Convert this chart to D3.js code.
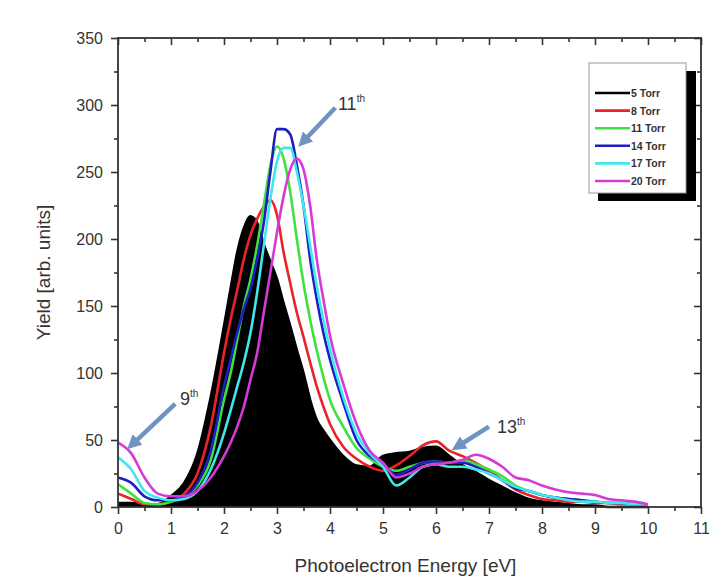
<!DOCTYPE html>
<html>
<head>
<meta charset="utf-8">
<script src="https://cdn.jsdelivr.net/npm/d3@7"></script>
<style>
  body { margin: 0; background: #fff; }
  text { font-family: "Liberation Sans", Arial, sans-serif; fill: #333; }
</style>
</head>
<body>
<script>
var energy = [0, 0.25, 0.5, 0.75, 1, 1.25, 1.5, 1.75, 2,
  2.125, 2.25, 2.375, 2.5, 2.625, 2.75, 2.875, 3, 3.125, 3.25, 3.375, 3.5, 3.625, 3.75, 3.875, 4,
  4.25, 4.5, 4.75, 5, 5.25, 5.5, 5.75, 6, 6.25, 6.5, 6.75, 7, 7.25, 7.5, 7.75, 8,
  8.25, 8.5, 8.75, 9, 9.25, 9.5, 9.75, 10];

var torr5 = [3, 3, 2, 2, 8, 18, 40, 82, 135,
  163, 190, 208, 217, 212, 196, 183, 170, 152, 135, 117, 100, 80, 65, 57, 50,
  38, 31, 30, 38, 40, 41, 44, 45, 38, 31, 26, 20, 15, 10, 6, 4,
  3, 2, 1, 1, 0, 0, 0, 0];
var torr8 = [10, 6, 2, 2, 4, 10, 25, 60, 115,
  140, 162, 185, 203, 215, 224, 229, 218, 190, 167, 145, 127, 108, 90, 75, 62,
  45, 36, 30, 27, 31, 38, 46, 49, 42, 38, 33, 27, 20, 13, 9, 6,
  5, 4, 4, 3, 3, 2, 2, 1];
var torr11 = [17, 10, 3, 2, 4, 8, 16, 35, 80,
  100, 125, 150, 170, 195, 225, 255, 269, 260, 235, 200, 167, 140, 117, 97, 80,
  60, 44, 36, 30, 27, 30, 33, 34, 33, 35, 32, 28, 23, 16, 12, 9,
  7, 6, 5, 4, 3, 3, 2, 2];
var torr14 = [22, 18, 8, 5, 5, 8, 18, 42, 90,
  110, 130, 148, 163, 185, 212, 250, 282, 282, 278, 255, 225, 185, 155, 130, 110,
  78, 50, 38, 32, 24, 28, 33, 34, 33, 33, 30, 25, 20, 14, 12, 9,
  7, 6, 5, 4, 3, 3, 2, 2];
var torr17 = [37, 28, 12, 7, 5, 6, 12, 28, 55,
  72, 90, 108, 130, 160, 195, 230, 258, 268, 268, 250, 225, 195, 165, 140, 118,
  82, 55, 40, 30, 16, 22, 30, 32, 30, 30, 28, 25, 20, 15, 12, 9,
  7, 5, 4, 4, 3, 3, 2, 2];
var torr20 = [48, 40, 22, 10, 8, 8, 12, 22, 38,
  48, 60, 75, 95, 115, 145, 175, 205, 232, 252, 260, 252, 225, 185, 155, 128,
  92, 62, 42, 33, 22, 25, 30, 32, 33, 35, 39, 36, 30, 22, 20, 16,
  13, 11, 10, 9, 6, 5, 4, 2];

var seriesNames = ["5 Torr", "8 Torr", "11 Torr", "14 Torr", "17 Torr", "20 Torr"];
var seriesValues = [torr5, torr8, torr11, torr14, torr17, torr20];
var seriesColors = ["#000000", "#e8242a", "#3ee23e", "#1e1ec4", "#3ee8ec", "#d63ad6"];

var xTicks = [0, 1, 2, 3, 4, 5, 6, 7, 8, 9, 10, 11];
var yTicks = [0, 50, 100, 150, 200, 250, 300, 350];

var width = 709, height = 580;
var margin = { top: 38, right: 8, bottom: 73, left: 118 };
var plotW = width - margin.left - margin.right,
    plotH = height - margin.top - margin.bottom;

var x = d3.scaleLinear().domain([0, 11]).range([0, plotW]);
var y = d3.scaleLinear().domain([0, 350]).range([plotH, 0]);

var svg = d3.select("body").append("svg")
    .attr("width", width)
    .attr("height", height);

var defs = svg.append("defs");
defs.append("marker")
    .attr("id", "head")
    .attr("viewBox", "0 0 10 10")
    .attr("refX", 2).attr("refY", 5)
    .attr("markerWidth", 3.2).attr("markerHeight", 3.2)
    .attr("orient", "auto")
  .append("path")
    .attr("d", "M0,0 L10,5 L0,10 Z")
    .attr("fill", "#7094c2");

var g = svg.append("g")
    .attr("transform", "translate(" + margin.left + "," + margin.top + ")");

var minorX = d3.range(0, 11.01, 0.5).filter(function(d) { return d % 1 !== 0; });
var minorY = d3.range(25, 350, 50);

// black filled spectrum
var area = d3.area()
    .x(function(d, i) { return x(energy[i]); })
    .y0(y(0))
    .y1(function(d) { return y(d); })
    .curve(d3.curveMonotoneX);

g.append("path")
    .datum(torr5)
    .attr("d", area)
    .attr("fill", "#000");

var line = d3.line()
    .x(function(d, i) { return x(energy[i]); })
    .y(function(d) { return y(d); })
    .curve(d3.curveMonotoneX);

seriesValues.forEach(function(vals, k) {
  g.append("path")
      .datum(vals)
      .attr("d", line)
      .attr("fill", "none")
      .attr("stroke", seriesColors[k])
      .attr("stroke-width", 2.6)
      .attr("stroke-linejoin", "round");
});

// axes
var axisColor = "#333";
function styleAxis(sel) {
  sel.select(".domain").remove();
  sel.selectAll("line").attr("stroke", axisColor).attr("stroke-width", 1.6);
  sel.selectAll("text").style("font-size", "16px").attr("fill", "#333");
}

g.append("g")
    .attr("transform", "translate(0," + plotH + ")")
    .call(d3.axisBottom(x).tickValues(xTicks).tickSize(7).tickPadding(9).tickFormat(d3.format("d")))
    .call(styleAxis);
g.append("g")
    .attr("transform", "translate(0," + plotH + ")")
    .call(d3.axisBottom(x).tickValues(minorX).tickSize(4).tickFormat(""))
    .call(styleAxis);
g.append("g")
    .call(d3.axisLeft(y).tickValues(yTicks).tickSize(7).tickPadding(8))
    .call(styleAxis);
g.append("g")
    .call(d3.axisLeft(y).tickValues(minorY).tickSize(4).tickFormat(""))
    .call(styleAxis);
g.append("g")
    .call(d3.axisBottom(x).tickValues(xTicks).tickSize(7).tickFormat(""))
    .call(styleAxis);
g.append("g")
    .call(d3.axisBottom(x).tickValues(minorX).tickSize(4).tickFormat(""))
    .call(styleAxis);
g.append("g")
    .attr("transform", "translate(" + plotW + ",0)")
    .call(d3.axisLeft(y).tickValues(yTicks).tickSize(7).tickFormat(""))
    .call(styleAxis);
g.append("g")
    .attr("transform", "translate(" + plotW + ",0)")
    .call(d3.axisLeft(y).tickValues(minorY).tickSize(4).tickFormat(""))
    .call(styleAxis);

g.append("rect")
    .attr("width", plotW).attr("height", plotH)
    .attr("fill", "none")
    .attr("stroke", axisColor)
    .attr("stroke-width", 1.8);

// axis titles
svg.append("text")
    .attr("x", margin.left + plotW / 2 - 4)
    .attr("y", 572)
    .attr("text-anchor", "middle")
    .style("font-size", "19px")
    .text("Photoelectron Energy [eV]");
svg.append("text")
    .attr("transform", "translate(50," + (margin.top + plotH / 2) + ") rotate(-90)")
    .attr("text-anchor", "middle")
    .style("font-size", "19px")
    .text("Yield [arb. units]");

// harmonic annotations
var harmonics = [
  { n: "9", tx: 1.17, ty: 76, x1: 1.08, y1: 77, x2: 0.33, y2: 49 },
  { n: "11", tx: 4.15, ty: 296, x1: 4.1, y1: 298, x2: 3.55, y2: 275 },
  { n: "13", tx: 7.15, ty: 55, x1: 7.0, y1: 60, x2: 6.48, y2: 47 }
];
harmonics.forEach(function(h) {
  g.append("line")
      .attr("x1", x(h.x1)).attr("y1", y(h.y1))
      .attr("x2", x(h.x2)).attr("y2", y(h.y2))
      .attr("stroke", "#7094c2")
      .attr("stroke-width", 4.5)
      .attr("marker-end", "url(#head)");
  var t = g.append("text")
      .attr("x", x(h.tx)).attr("y", y(h.ty))
      .style("font-size", "18px");
  t.append("tspan").text(h.n);
  t.append("tspan").attr("dy", -8).style("font-size", "10px").text("th");
});

// legend
var lg = svg.append("g").attr("transform", "translate(589,63)");
lg.append("rect")
    .attr("x", 9).attr("y", 8)
    .attr("width", 98).attr("height", 130)
    .attr("fill", "#000");
lg.append("rect")
    .attr("width", 97).attr("height", 130)
    .attr("fill", "#fff")
    .attr("stroke", "#999")
    .attr("stroke-width", 1);
seriesNames.forEach(function(name, k) {
  var row = lg.append("g").attr("transform", "translate(0," + (30 + k * 17.6) + ")");
  row.append("line")
      .attr("x1", 6).attr("x2", 41)
      .attr("stroke", seriesColors[k])
      .attr("stroke-width", 2.6);
  row.append("text")
      .attr("x", 42).attr("y", 4)
      .style("font-size", "10.5px")
      .style("font-weight", "bold")
      .attr("fill", "#333")
      .text(name);
});
</script>
</body>
</html>
